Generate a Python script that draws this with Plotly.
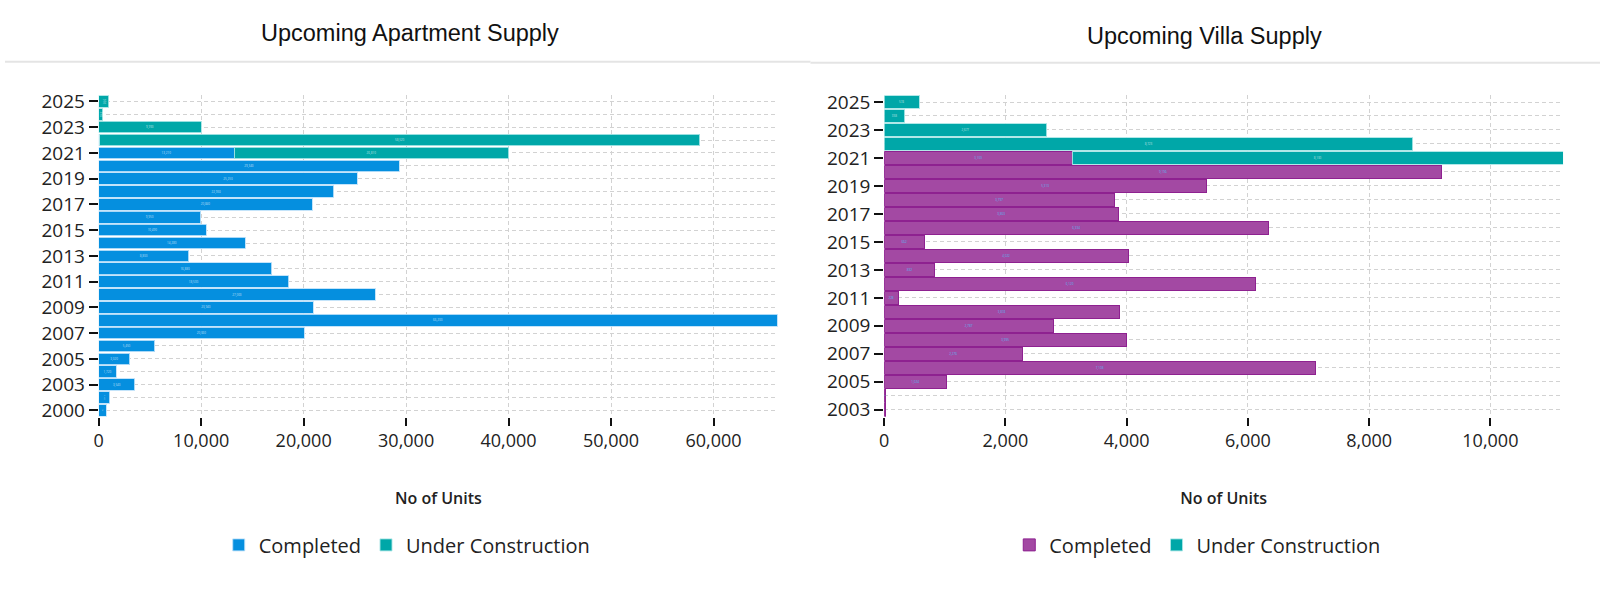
import plotly.graph_objects as go

# ---------------- data ----------------
apt_years = [2000, 2002, 2003, 2004, 2005, 2006, 2007, 2008, 2009, 2010, 2011, 2012,
             2013, 2014, 2015, 2016, 2017, 2018, 2019, 2020, 2021, 2022, 2023, 2024, 2025]
apt_completed = [746, 1100, 3540, 1720, 3020, 5450, 20060, 66200, 20940, 27000, 18530, 16880,
                 8800, 14280, 10490, 9950, 20840, 22950, 25250, 29340, 13210, 120, None, None, None]
apt_under_construction = [None, None, None, None, None, None, None, None, None, None, None, None,
                          None, None, None, None, None, None, None, None, 26810, 58520, 9990, 390, 970]

villa_years = [2003, 2004, 2005, 2006, 2007, 2008, 2009, 2010, 2011, 2012, 2013, 2014,
               2015, 2016, 2017, 2018, 2019, 2020, 2021, 2022, 2023, 2024, 2025]
villa_completed = [15, 25, 1024, 7108, 2276, 3995, 2787, 3874, 228, 6120, 832, 4022,
                   662, 6334, 3863, 3797, 5313, 9196, 3100, None, None, None, None]
villa_under_construction = [None, None, None, None, None, None, None, None, None, None, None, None,
                            None, None, None, None, None, None, 8100, 8723, 2677, 338, 574]

titles = ["Upcoming Apartment Supply", "Upcoming Villa Supply"]
axis_title = "No of Units"
series_names = ["Completed", "Under Construction"]

# ---------------- style ----------------
BLUE = "#058fdf"
TEAL = "#00a7a8"
PURPLE = "#a349a3"
FONT = "Open Sans"
GRID = "#d2d2d2"
DASH = "4px,3px"

apt_pos = list(range(len(apt_years)))
villa_pos = list(range(len(villa_years)))

fig = go.Figure()

def add_bar(x, pos, name, color, line_color, text_color, xa, ya, legend):
    fig.add_trace(go.Bar(
        x=x, y=pos, orientation="h", name=name,
        marker=dict(color=color, line=dict(color=line_color, width=1)),
        texttemplate="%{x:,}", textposition="inside", insidetextanchor="middle",
        textfont=dict(size=3, color=text_color),
        xaxis=xa, yaxis=ya, legend=legend,
    ))

add_bar(apt_completed, apt_pos, series_names[0], BLUE, "rgba(190,225,250,0.9)",
        "rgba(255,255,255,0.7)", "x", "y", "legend")
add_bar(apt_under_construction, apt_pos, series_names[1], TEAL, "rgba(170,230,230,0.9)",
        "rgba(255,255,255,0.7)", "x", "y", "legend")
add_bar(villa_completed, villa_pos, series_names[0], PURPLE, "#8e2190",
        "#5ab8f0", "x2", "y2", "legend2")
add_bar(villa_under_construction, villa_pos, series_names[1], TEAL, "rgba(170,230,230,0.9)",
        "rgba(255,255,255,0.7)", "x2", "y2", "legend2")

W, H = 1600, 590

def xax(domain, rng, dtick):
    return dict(
        domain=domain, range=rng, dtick=dtick, tickformat=",",
        ticks="outside", ticklen=8, tickwidth=2, tickcolor="#111",
        showgrid=True, gridcolor=GRID, griddash=DASH, gridwidth=1,
        zeroline=False, showline=False,
        tickfont=dict(family=FONT, size=18, color="#222"),
        title=dict(text=axis_title, standoff=41,
                   font=dict(family=FONT, size=16, color="#222", weight=600)),
        fixedrange=True,
    )

def yax(domain, pos, years, anchor):
    return dict(
        domain=domain, anchor=anchor, range=[-0.5, len(pos) - 0.5],
        tickmode="array", tickvals=pos[::2], ticktext=[str(v) for v in years[::2]],
        ticks="outside", ticklen=9, tickwidth=2, tickcolor="#111",
        showgrid=True, gridcolor=GRID, griddash=DASH, gridwidth=1,
        minor=dict(tickmode="linear", tick0=0, dtick=1, showgrid=True,
                   gridcolor=GRID, griddash=DASH, gridwidth=1, ticks=""),
        zeroline=False, showline=False,
        tickfont=dict(family=FONT, size=19, color="#222"),
        fixedrange=True,
    )

ydom = [1 - 419 / H, 1 - 90 / H]
fig.update_layout(
    width=W, height=H,
    margin=dict(l=0, r=0, t=0, b=0),
    paper_bgcolor="white", plot_bgcolor="white",
    barmode="stack", bargap=0.1,
    font=dict(family=FONT, color="#222"),
    showlegend=True,
    xaxis=xax([94 / W, 775.5 / W], [0, 66300], 10000),
    yaxis=yax(ydom, apt_pos, apt_years, "x"),
    xaxis2=xax([882 / W, 1563 / W], [0, 11200], 2000),
    yaxis2=yax(ydom, villa_pos, villa_years, "x2"),
    legend=dict(orientation="h", x=403 / W, xanchor="center", y=1 - 550 / H, yanchor="middle",
                font=dict(family=FONT, size=20, color="#222"), traceorder="normal"),
    legend2=dict(orientation="h", x=1196 / W, xanchor="center", y=1 - 550 / H, yanchor="middle",
                 font=dict(family=FONT, size=20, color="#222"), traceorder="normal"),
    annotations=[
        dict(text=titles[0], x=406 / W, y=1 - 27 / H, xref="paper", yref="paper",
             xanchor="center", yanchor="middle", showarrow=False,
             font=dict(family="Liberation Sans, Arial", size=23.5, color="#111")),
        dict(text=titles[1], x=1203 / W, y=1 - 30 / H, xref="paper", yref="paper",
             xanchor="center", yanchor="middle", showarrow=False,
             font=dict(family="Liberation Sans, Arial", size=23.5, color="#111")),
    ],
    shapes=[
        dict(type="line", xref="paper", yref="paper", x0=0, x1=808 / W,
             y0=1 - 56 / H, y1=1 - 56 / H, line=dict(color="#e4e4e4", width=2)),
        dict(type="line", xref="paper", yref="paper", x0=808 / W, x1=1,
             y0=1 - 57 / H, y1=1 - 57 / H, line=dict(color="#e4e4e4", width=2)),
    ],
)

fig.write_html("out.html", config={"displayModeBar": False},
               post_script="document.body.style.margin='0';")
